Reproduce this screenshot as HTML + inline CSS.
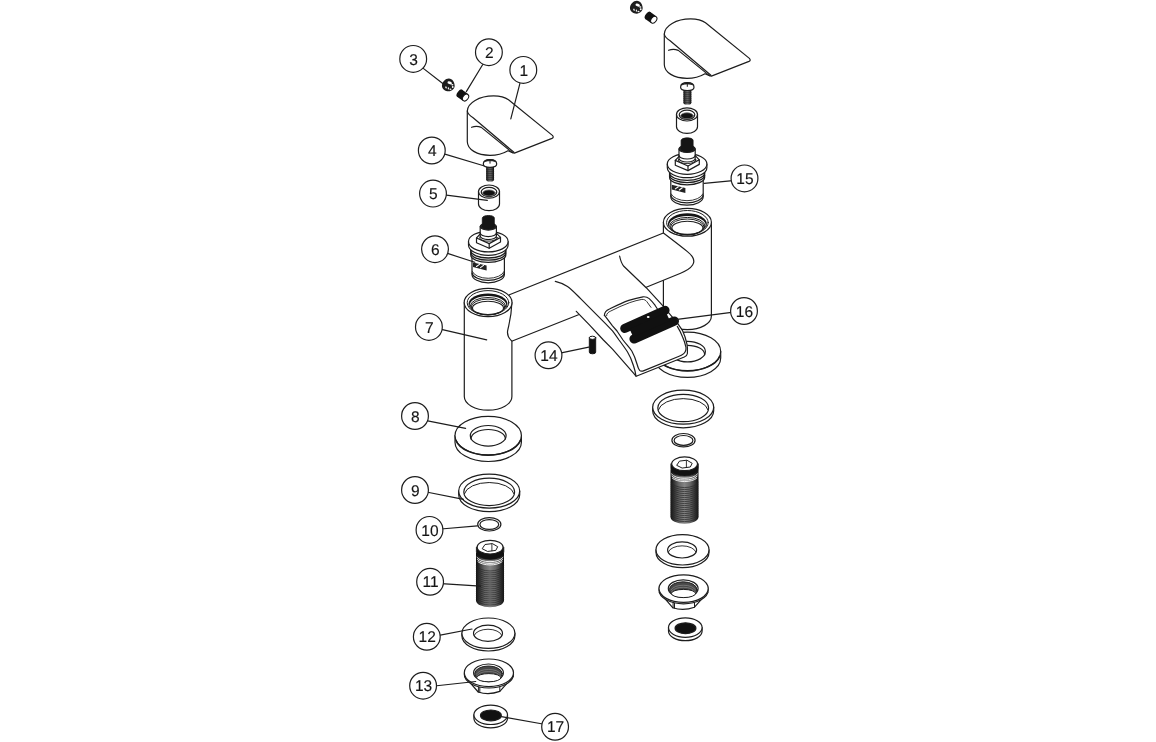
<!DOCTYPE html>
<html lang="en"><head><meta charset="utf-8"><title>Exploded parts diagram</title>
<style>
html,body{margin:0;padding:0;background:#fff;}
svg{display:block;filter:blur(0.3px);}
svg text{font-family:"Liberation Sans",Arial,sans-serif;font-size:15.5px;fill:#151515;stroke:#151515;stroke-width:0.15px;text-rendering:geometricPrecision;}
</style></head><body>
<svg width="1156" height="742" viewBox="0 0 1156 742" fill="#fff" stroke="#1d1d1d" stroke-width="1.2" stroke-linejoin="round" stroke-linecap="round">
<defs><linearGradient id="thr" x1="0" y1="0" x2="1" y2="0"><stop offset="0" stop-color="#0c0c0c"/><stop offset="0.1" stop-color="#2c2c2c"/><stop offset="0.3" stop-color="#666"/><stop offset="0.5" stop-color="#848484"/><stop offset="0.7" stop-color="#666"/><stop offset="0.9" stop-color="#2c2c2c"/><stop offset="1" stop-color="#0c0c0c"/></linearGradient></defs>
<rect x="0" y="0" width="1156" height="742" fill="#fff" stroke="none"/>

<path d="M654.3,351.4 L654.3,358.0 A33.2,19.3 0 0 0 720.7,358.0 L720.7,351.4 Z"/>
<ellipse cx="687.5" cy="351.4" rx="33.2" ry="19.3"/>
<path d="M655.3,356.4 A33.2,19.3 0 0 0 719.7,356.4" fill="none" stroke-width="1.5"/>
<ellipse cx="687.5" cy="351.59999999999997" rx="17.9" ry="10.3"/>
<path d="M670.3,354.79999999999995 A17,9.4 0 0 1 704.7,354.79999999999995" fill="none"/>

<path d="M663.4,222.3 L663.4,316 A24,13.6 0 0 0 711.4,316 L711.4,222.3 Z"/>
<ellipse cx="687.4" cy="222.3" rx="24" ry="13.9"/>

<ellipse cx="687.4" cy="222.60000000000002" rx="20.8" ry="12.1" stroke-width="1"/>
<ellipse cx="687.4" cy="224.0" rx="19.5" ry="10.7" fill="#151515" stroke="none"/>
<ellipse cx="687.4" cy="225.4" rx="18.3" ry="9.4" fill="#fff" stroke="none"/>
<ellipse cx="687.4" cy="226.10000000000002" rx="17.7" ry="8.7" fill="none" stroke-width="1"/>
<ellipse cx="687.4" cy="226.9" rx="16.8" ry="7.9" fill="none" stroke-width="1"/>
<ellipse cx="687.4" cy="227.8" rx="15.5" ry="6.6" fill="none" stroke-width="1.1"/>

<path d="M509.4,294.8 L663.4,233 C670,238 680,245.6 687.4,251.6 C693,256 695.6,260.4 692.6,265 C690,269 686,271 680.6,273.2 L511.7,341.2 Z" stroke="none"/>
<path d="M560,288 L576.3,311.3 L589.4,324.9 L603.4,340 L612.5,349.1 L633.5,373.2 L636.2,376.3 L684.3,357 Q687.2,355.6 687.4,353.5 C687.8,349 687.6,347 686.9,343.9 C685.8,339 684.4,334.6 682.6,330.8 L675.9,321 L662.7,305.6 L646.2,287.7 L623.8,266.3 L619.6,256 Z" stroke="none"/>
<path d="M509.4,294.8 L663.4,233 C670,238 680,245.6 687.4,251.6 C693,256 695.6,260.4 692.6,265 C690,269 686,271 680.6,273.2 L646.2,287.3" fill="none"/>
<path d="M578.5,314.8 L511.7,341.2" fill="none"/>
<path d="M555.3,281.3 C560,282.4 564,284 567.5,286.4 C572,289.6 576,294 580.6,298.6 L593.8,311.8 L605.5,323.6 L612.5,330.8 C615,334 617,337 619,340 C622,344 625,348 627.4,351.8 C630,356 632,361 633.5,365.8 C634.6,369 635.4,372 635.9,375.8" fill="none"/>
<path d="M576.3,311.3 L589.4,324.9 L603.4,340 L612.5,349.1 L633.5,373.2 L636.2,376.3 L684.3,357 Q687.2,355.6 687.4,353.5 C687.8,349 687.6,347 686.9,343.9 C685.8,339 684.4,334.6 682.6,330.8 C681,328 679.6,326.4 677.6,323.4 L662.7,305.6 L646.2,287.7 L623.8,266.3 C621.6,263.6 620.4,260 619.6,256" fill="none"/>
<path d="M604.4,315.2 L612.5,325.8 L617,331 L623,340 C626,344 629,347 631.8,351 C634,355 635.6,359 637,364 C637.8,367 638.4,369 639.6,370.4 Q641,371.8 644,370.6 L679.1,356.2 Q684,354.4 685.2,351.8 C686,350 686.2,349 686,347.4 C685.2,343.6 684,340 682.6,336.9 C681,333 679.4,329.8 677.3,326.4" fill="none"/>
<path d="M604.4,315.6 C604.3,312 606.2,310.4 609.5,309 C615.6,306 622,302.8 628.8,300.4 C633,299 638,297.6 643,296.8 C645.6,296.6 647.6,297.2 649.2,298.6 C651.6,300.8 653.6,303.2 655,305.2 L657.4,309" fill="none"/>
<path d="M606.6,315.6 C606.6,313.4 608.2,312.2 610.8,311 C616.8,308 623,305 629.8,302.6 C634,301.2 638.2,300 641.8,299.4 C644.2,299.2 645.6,300.2 646.8,301.6 L651,307.4" fill="none" stroke-width="0.9"/>
<path d="M624.8,328.4 L665,310.4 M634,339 L674.4,321" stroke="#111" stroke-width="9.2" stroke-linecap="round" fill="none"/>
<path d="M631.4,333 L668,316.6" stroke="#111" stroke-width="9" stroke-linecap="butt" fill="none"/>
<ellipse cx="648.2" cy="317.1" rx="1.4" ry="1" fill="#fff" stroke="none"/>
<path d="M464.3,302.6 L464.3,396.5 A23.8,13.7 0 0 0 511.9,396.5 L511.9,341.2 C508.6,338 507,335 507.6,331 C508.6,325 511.4,318 511.9,302.6 Z"/>
<ellipse cx="488.1" cy="302.5" rx="23.9" ry="14.1"/>

<ellipse cx="488" cy="302.7" rx="20.8" ry="12.1" stroke-width="1"/>
<ellipse cx="488" cy="304.09999999999997" rx="19.5" ry="10.7" fill="#151515" stroke="none"/>
<ellipse cx="488" cy="305.5" rx="18.3" ry="9.4" fill="#fff" stroke="none"/>
<ellipse cx="488" cy="306.2" rx="17.7" ry="8.7" fill="none" stroke-width="1"/>
<ellipse cx="488" cy="307.0" rx="16.8" ry="7.9" fill="none" stroke-width="1"/>
<ellipse cx="488" cy="307.9" rx="15.5" ry="6.6" fill="none" stroke-width="1.1"/>

<path d="M589.3,337.8 L589.3,352.2 A3.2,1.6 0 0 0 595.7,352.2 L595.7,337.8 Z" fill="#111" stroke="#111" stroke-width="0.9"/>
<ellipse cx="592.5" cy="337.8" rx="3.2" ry="1.6" fill="#fff" stroke="#111" stroke-width="1"/>
<path d="M467.3,141.5 L467.3,111 C467.6,103 479,95.9 493.6,95.9 C500.5,95.9 505,97.2 508.5,99.8 L552.4,135.4 Q554.2,137.3 552,138.4 L514.4,153.1 L512.4,152.6 L508,150.7 C503,153.6 497,155.3 490,155.3 C477,155.3 467.3,149.4 467.3,141.5 Z"/>
<path d="M467.3,111 Q468,114.6 473.1,117.8 L513.9,152.3" fill="none"/>
<path d="M471.6,127.3 Q476.5,125.3 481.3,127.4 L512.4,152.6" fill="none"/>
<g transform="translate(197,-77)">
<path d="M467.3,141.5 L467.3,111 C467.6,103 479,95.9 493.6,95.9 C500.5,95.9 505,97.2 508.5,99.8 L552.4,135.4 Q554.2,137.3 552,138.4 L514.4,153.1 L512.4,152.6 L508,150.7 C503,153.6 497,155.3 490,155.3 C477,155.3 467.3,149.4 467.3,141.5 Z"/>
<path d="M467.3,111 Q468,114.6 473.1,117.8 L513.9,152.3" fill="none"/>
<path d="M471.6,127.3 Q476.5,125.3 481.3,127.4 L512.4,152.6" fill="none"/>
</g>
<g transform="translate(436,74) scale(0.0431)" stroke="none">
<path d="M300,103 C225,100 138,185 138,272 C138,352 215,402 292,402 C372,402 436,342 433,268 C430,182 378,106 300,103 Z" fill="#1d1d1d"/>
<ellipse cx="318" cy="204" rx="54" ry="32" transform="rotate(22 318 204)" fill="#fff"/>
<ellipse cx="378" cy="248" rx="26" ry="18" fill="#fff"/>
<ellipse cx="388" cy="300" rx="21" ry="23" fill="#fff"/>
<ellipse cx="336" cy="354" rx="24" ry="18" fill="#f4f4f4"/>
<ellipse cx="288" cy="334" rx="16" ry="25" fill="#eee"/>
<ellipse cx="232" cy="312" rx="20" ry="27" transform="rotate(-25 232 312)" fill="#ddd"/>
</g>
<g transform="translate(188,-77.7)">
<g transform="translate(436,74) scale(0.0431)" stroke="none">
<path d="M300,103 C225,100 138,185 138,272 C138,352 215,402 292,402 C372,402 436,342 433,268 C430,182 378,106 300,103 Z" fill="#1d1d1d"/>
<ellipse cx="318" cy="204" rx="54" ry="32" transform="rotate(22 318 204)" fill="#fff"/>
<ellipse cx="378" cy="248" rx="26" ry="18" fill="#fff"/>
<ellipse cx="388" cy="300" rx="21" ry="23" fill="#fff"/>
<ellipse cx="336" cy="354" rx="24" ry="18" fill="#f4f4f4"/>
<ellipse cx="288" cy="334" rx="16" ry="25" fill="#eee"/>
<ellipse cx="232" cy="312" rx="20" ry="27" transform="rotate(-25 232 312)" fill="#ddd"/>
</g>
</g>
<g transform="translate(459.6,93.2) rotate(36)">
<rect x="0" y="-4.3" width="7.4" height="8.6" fill="#111" stroke="none"/>
<ellipse cx="0" cy="0" rx="2.2" ry="4.3" fill="#111" stroke="none"/>
<ellipse cx="7.4" cy="0" rx="2.6" ry="3.8" fill="#fff" stroke="#111" stroke-width="1"/>
</g>
<g transform="translate(188.2,-77.8)">
<g transform="translate(459.6,93.2) rotate(36)">
<rect x="0" y="-4.3" width="7.4" height="8.6" fill="#111" stroke="none"/>
<ellipse cx="0" cy="0" rx="2.2" ry="4.3" fill="#111" stroke="none"/>
<ellipse cx="7.4" cy="0" rx="2.6" ry="3.8" fill="#fff" stroke="#111" stroke-width="1"/>
</g>
</g>
<rect x="486.2" y="165" width="7.8" height="16.4" rx="1.8" fill="url(#thr)" stroke="none"/>
<rect x="486.2" y="165" width="7.8" height="16.4" rx="1.8" fill="#000" fill-opacity="0.22" stroke="none"/>
<path d="M486.4,169.4 h7.4 M486.4,171.4 h7.4 M486.4,173.4 h7.4 M486.4,175.4 h7.4 M486.4,177.4 h7.4 M486.4,179.4 h7.4" stroke="#222" stroke-width="0.7" fill="none" stroke-opacity="0.8"/>
<path d="M483.3,164 C483.3,160.6 486.3,159.5 490,159.5 C493.7,159.5 496.7,160.6 496.7,164 C496.7,166 493.7,167.3 490,167.3 C486.3,167.3 483.3,166 483.3,164 Z"/>
<path d="M484.6,161.6 C486,159.8 488,159.5 490,159.5 C492,159.5 494,159.8 495.4,161.6 C493.6,160.9 491.8,160.7 490,160.7 C488.2,160.7 486.4,160.9 484.6,161.6 Z" fill="#222" stroke-width="0.8"/>
<path d="M490,160 L490,163.2" fill="none" stroke-width="1"/>
<g transform="translate(197.3,-76.8)">
<rect x="486.2" y="165" width="7.8" height="16.4" rx="1.8" fill="url(#thr)" stroke="none"/>
<rect x="486.2" y="165" width="7.8" height="16.4" rx="1.8" fill="#000" fill-opacity="0.22" stroke="none"/>
<path d="M486.4,169.4 h7.4 M486.4,171.4 h7.4 M486.4,173.4 h7.4 M486.4,175.4 h7.4 M486.4,177.4 h7.4 M486.4,179.4 h7.4" stroke="#222" stroke-width="0.7" fill="none" stroke-opacity="0.8"/>
<path d="M483.3,164 C483.3,160.6 486.3,159.5 490,159.5 C493.7,159.5 496.7,160.6 496.7,164 C496.7,166 493.7,167.3 490,167.3 C486.3,167.3 483.3,166 483.3,164 Z"/>
<path d="M484.6,161.6 C486,159.8 488,159.5 490,159.5 C492,159.5 494,159.8 495.4,161.6 C493.6,160.9 491.8,160.7 490,160.7 C488.2,160.7 486.4,160.9 484.6,161.6 Z" fill="#222" stroke-width="0.8"/>
<path d="M490,160 L490,163.2" fill="none" stroke-width="1"/>
</g>
<path d="M478.5,191.6 L478.5,204 A10.5,6.6 0 0 0 499.5,204 L499.5,191.6 Z"/>
<ellipse cx="489" cy="191.6" rx="10.5" ry="6.6"/>
<ellipse cx="489" cy="192" rx="7.8" ry="4.7" fill="#fff"/>
<ellipse cx="489" cy="193" rx="6.3" ry="3" fill="#111" stroke="#666" stroke-width="0.8"/>
<g transform="translate(198,-77.2)">
<path d="M478.5,191.6 L478.5,204 A10.5,6.6 0 0 0 499.5,204 L499.5,191.6 Z"/>
<ellipse cx="489" cy="191.6" rx="10.5" ry="6.6"/>
<ellipse cx="489" cy="192" rx="7.8" ry="4.7" fill="#fff"/>
<ellipse cx="489" cy="193" rx="6.3" ry="3" fill="#111" stroke="#666" stroke-width="0.8"/>
</g>
<!-- body -->
<path d="M472,254 L472,274.4 A16.2,8.4 0 0 0 504.4,274.4 L504.4,254 Z"/>
<path d="M472.1,273 A16.2,8.4 0 0 0 504.3,273" fill="none"/>
<path d="M472.3,271.5 A16.2,8.4 0 0 0 504.1,271.5" fill="none" stroke-width="0.9"/>
<!-- thread -->
<path d="M470.8,248 L470.8,255 A17.5,7.4 0 0 0 505.8,255 L505.8,248 Z" stroke-width="1.3"/>
<path d="M470.8,250.6 A17.5,7.4 0 0 0 505.8,250.6 M470.8,252.8 A17.5,7.4 0 0 0 505.8,252.8" fill="none" stroke-width="1.3"/>
<!-- flange -->
<path d="M468.5,241.6 L468.5,245 A19.8,10.3 0 0 0 508.1,245 L508.1,241.6 Z"/>
<ellipse cx="488.3" cy="241.6" rx="19.8" ry="10.3"/>
<!-- hex nut -->
<path d="M476.5,238 L476.5,242.8 L489.2,248.2 L500.5,242 L500.5,237.4 Z"/>
<path d="M476.5,238 L481,233.2 L496,232.8 L500.5,237.4 L489.2,243.6 Z"/>
<path d="M489.2,243.6 L489.2,248.2" fill="none"/>
<ellipse cx="488.3" cy="237.6" rx="8.8" ry="3.6" fill="none" stroke-width="0.9"/>
<!-- collar -->
<path d="M480.2,226.5 L480.2,236 A8.1,3.6 0 0 0 496.4,236 L496.4,226.5 Z"/>
<path d="M480.2,233 A8.1,3.6 0 0 0 496.4,233" fill="none"/>
<ellipse cx="488.3" cy="226.5" rx="8.1" ry="3.6" fill="#222"/>
<!-- spline -->
<path d="M482.3,218 C482.3,214.6 494.3,214.6 494.3,218 L494.3,226.5 A6,2.6 0 0 1 482.3,226.5 Z" fill="#151515" stroke="#151515" stroke-width="0.8"/>
<!-- label window -->
<path d="M473,262.4 L486.6,265.6 L486.6,270.6 L473,267 Z" fill="#222" stroke="none"/>
<path d="M476.5,266.5 L479.5,264.4 M480.5,267.6 L483.5,265.4" stroke="#fff" stroke-width="1.1" fill="none"/>
<g transform="translate(198.8,-77.6)">
<!-- body -->
<path d="M472,254 L472,274.4 A16.2,8.4 0 0 0 504.4,274.4 L504.4,254 Z"/>
<path d="M472.1,273 A16.2,8.4 0 0 0 504.3,273" fill="none"/>
<path d="M472.3,271.5 A16.2,8.4 0 0 0 504.1,271.5" fill="none" stroke-width="0.9"/>
<!-- thread -->
<path d="M470.8,248 L470.8,255 A17.5,7.4 0 0 0 505.8,255 L505.8,248 Z" stroke-width="1.3"/>
<path d="M470.8,250.6 A17.5,7.4 0 0 0 505.8,250.6 M470.8,252.8 A17.5,7.4 0 0 0 505.8,252.8" fill="none" stroke-width="1.3"/>
<!-- flange -->
<path d="M468.5,241.6 L468.5,245 A19.8,10.3 0 0 0 508.1,245 L508.1,241.6 Z"/>
<ellipse cx="488.3" cy="241.6" rx="19.8" ry="10.3"/>
<!-- hex nut -->
<path d="M476.5,238 L476.5,242.8 L489.2,248.2 L500.5,242 L500.5,237.4 Z"/>
<path d="M476.5,238 L481,233.2 L496,232.8 L500.5,237.4 L489.2,243.6 Z"/>
<path d="M489.2,243.6 L489.2,248.2" fill="none"/>
<ellipse cx="488.3" cy="237.6" rx="8.8" ry="3.6" fill="none" stroke-width="0.9"/>
<!-- collar -->
<path d="M480.2,226.5 L480.2,236 A8.1,3.6 0 0 0 496.4,236 L496.4,226.5 Z"/>
<path d="M480.2,233 A8.1,3.6 0 0 0 496.4,233" fill="none"/>
<ellipse cx="488.3" cy="226.5" rx="8.1" ry="3.6" fill="#222"/>
<!-- spline -->
<path d="M482.3,218 C482.3,214.6 494.3,214.6 494.3,218 L494.3,226.5 A6,2.6 0 0 1 482.3,226.5 Z" fill="#151515" stroke="#151515" stroke-width="0.8"/>
<!-- label window -->
<path d="M473,262.4 L486.6,265.6 L486.6,270.6 L473,267 Z" fill="#222" stroke="none"/>
<path d="M476.5,266.5 L479.5,264.4 M480.5,267.6 L483.5,265.4" stroke="#fff" stroke-width="1.1" fill="none"/>
</g>
<path d="M455.0,435.6 L455.0,442.20000000000005 A33.2,19.3 0 0 0 521.4,442.20000000000005 L521.4,435.6 Z"/>
<ellipse cx="488.2" cy="435.6" rx="33.2" ry="19.3"/>
<path d="M456.0,440.6 A33.2,19.3 0 0 0 520.4,440.6" fill="none" stroke-width="1.5"/>
<ellipse cx="488.2" cy="435.8" rx="17.9" ry="10.3"/>
<path d="M471.0,439.0 A17,9.4 0 0 1 505.4,439.0" fill="none"/>

<path d="M458.7,491.1 L458.7,494.70000000000005 A30.5,17 0 0 0 519.7,494.70000000000005 L519.7,491.1 Z"/>
<ellipse cx="489.2" cy="491.1" rx="30.5" ry="17"/>
<ellipse cx="489.2" cy="491.90000000000003" rx="25.4" ry="13.7"/>
<path d="M464.4,493.70000000000005 A25,12.8 0 0 1 514.0,493.70000000000005" fill="none" stroke-width="1"/>
<g transform="translate(194,-83.9)">
<path d="M458.7,491.1 L458.7,494.70000000000005 A30.5,17 0 0 0 519.7,494.70000000000005 L519.7,491.1 Z"/>
<ellipse cx="489.2" cy="491.1" rx="30.5" ry="17"/>
<ellipse cx="489.2" cy="491.90000000000003" rx="25.4" ry="13.7"/>
<path d="M464.4,493.70000000000005 A25,12.8 0 0 1 514.0,493.70000000000005" fill="none" stroke-width="1"/>
</g>
<ellipse cx="489.3" cy="524.3" rx="11.6" ry="6.7"/>
<ellipse cx="489.3" cy="524.5" rx="9.4" ry="4.9"/>
<g transform="translate(194.2,-84.1)">
<ellipse cx="489.3" cy="524.3" rx="11.6" ry="6.7"/>
<ellipse cx="489.3" cy="524.5" rx="9.4" ry="4.9"/>
</g><path d="M476,553 L476,600.4 A14,6.8 0 0 0 504,600.4 L504,553 Z" fill="url(#thr)" stroke="none"/>
<path d="M476.3,565.6 A14,6.8 0 0 0 503.7,565.6 M476.3,567.6 A14,6.8 0 0 0 503.7,567.6 M476.3,569.6 A14,6.8 0 0 0 503.7,569.6 M476.3,571.6 A14,6.8 0 0 0 503.7,571.6 M476.3,573.6 A14,6.8 0 0 0 503.7,573.6 M476.3,575.6 A14,6.8 0 0 0 503.7,575.6 M476.3,577.6 A14,6.8 0 0 0 503.7,577.6 M476.3,579.6 A14,6.8 0 0 0 503.7,579.6 M476.3,581.6 A14,6.8 0 0 0 503.7,581.6 M476.3,583.6 A14,6.8 0 0 0 503.7,583.6 M476.3,585.6 A14,6.8 0 0 0 503.7,585.6 M476.3,587.6 A14,6.8 0 0 0 503.7,587.6 M476.3,589.6 A14,6.8 0 0 0 503.7,589.6 M476.3,591.6 A14,6.8 0 0 0 503.7,591.6 M476.3,593.6 A14,6.8 0 0 0 503.7,593.6 M476.3,595.6 A14,6.8 0 0 0 503.7,595.6 M476.3,597.6 A14,6.8 0 0 0 503.7,597.6 M476.3,599.6 A14,6.8 0 0 0 503.7,599.6" fill="none" stroke="#262626" stroke-width="0.8" stroke-opacity="0.85"/>
<path d="M477,557.4 A14,6.8 0 0 0 503,557.4 M477.4,559.6 A14,6.8 0 0 0 502.6,559.6 M478,561.8 A14,6.8 0 0 0 502,561.8" fill="none" stroke="#fff" stroke-width="0.9"/>
<path d="M476.4,547.4 L476.4,552 A13.7,7.4 0 0 0 503.8,552 L503.8,547.4 Z" fill="#111" stroke="#111" stroke-width="0.8"/>
<ellipse cx="490.1" cy="547.2" rx="12.9" ry="6.9"/>
<path d="M482.4,548.4 L485,544.5 L492.4,543.6 L497.7,546.7 L495.8,550.4 L488,551.4 Z" stroke-width="1"/>
<path d="M491.9,544 L491.9,550.8" fill="none" stroke-width="0.9"/><g transform="translate(194.5,-83.4)"><path d="M476,553 L476,600.4 A14,6.8 0 0 0 504,600.4 L504,553 Z" fill="url(#thr)" stroke="none"/>
<path d="M476.3,565.6 A14,6.8 0 0 0 503.7,565.6 M476.3,567.6 A14,6.8 0 0 0 503.7,567.6 M476.3,569.6 A14,6.8 0 0 0 503.7,569.6 M476.3,571.6 A14,6.8 0 0 0 503.7,571.6 M476.3,573.6 A14,6.8 0 0 0 503.7,573.6 M476.3,575.6 A14,6.8 0 0 0 503.7,575.6 M476.3,577.6 A14,6.8 0 0 0 503.7,577.6 M476.3,579.6 A14,6.8 0 0 0 503.7,579.6 M476.3,581.6 A14,6.8 0 0 0 503.7,581.6 M476.3,583.6 A14,6.8 0 0 0 503.7,583.6 M476.3,585.6 A14,6.8 0 0 0 503.7,585.6 M476.3,587.6 A14,6.8 0 0 0 503.7,587.6 M476.3,589.6 A14,6.8 0 0 0 503.7,589.6 M476.3,591.6 A14,6.8 0 0 0 503.7,591.6 M476.3,593.6 A14,6.8 0 0 0 503.7,593.6 M476.3,595.6 A14,6.8 0 0 0 503.7,595.6 M476.3,597.6 A14,6.8 0 0 0 503.7,597.6 M476.3,599.6 A14,6.8 0 0 0 503.7,599.6" fill="none" stroke="#262626" stroke-width="0.8" stroke-opacity="0.85"/>
<path d="M477,557.4 A14,6.8 0 0 0 503,557.4 M477.4,559.6 A14,6.8 0 0 0 502.6,559.6 M478,561.8 A14,6.8 0 0 0 502,561.8" fill="none" stroke="#fff" stroke-width="0.9"/>
<path d="M476.4,547.4 L476.4,552 A13.7,7.4 0 0 0 503.8,552 L503.8,547.4 Z" fill="#111" stroke="#111" stroke-width="0.8"/>
<ellipse cx="490.1" cy="547.2" rx="12.9" ry="6.9"/>
<path d="M482.4,548.4 L485,544.5 L492.4,543.6 L497.7,546.7 L495.8,550.4 L488,551.4 Z" stroke-width="1"/>
<path d="M491.9,544 L491.9,550.8" fill="none" stroke-width="0.9"/></g>
<path d="M461.9,633.2 L461.9,635.8000000000001 A26.5,15.2 0 0 0 514.9,635.8000000000001 L514.9,633.2 Z"/>
<ellipse cx="488.4" cy="633.2" rx="26.5" ry="15.2"/>
<ellipse cx="488.0" cy="633.3000000000001" rx="14.5" ry="8.1"/>
<path d="M474.2,635.4000000000001 A14,7.4 0 0 1 501.79999999999995,635.4000000000001" fill="none" stroke-width="0.9"/>
<g transform="translate(194.1,-83.4)">
<path d="M461.9,633.2 L461.9,635.8000000000001 A26.5,15.2 0 0 0 514.9,635.8000000000001 L514.9,633.2 Z"/>
<ellipse cx="488.4" cy="633.2" rx="26.5" ry="15.2"/>
<ellipse cx="488.0" cy="633.3000000000001" rx="14.5" ry="8.1"/>
<path d="M474.2,635.4000000000001 A14,7.4 0 0 1 501.79999999999995,635.4000000000001" fill="none" stroke-width="0.9"/>
</g>
<path d="M464.6,676.4 L478.2,692 Q488.7,695.4 499.8,691.4 L513.2,676.4 Z"/>
<path d="M478.4,692.2 L478.4,686.8 M479.8,692.4 L479.8,687.2 M499.8,691.4 L499.8,686.6" fill="none" stroke-width="1"/>
<ellipse cx="488.9" cy="674.1999999999999" rx="24.6" ry="13.8"/>
<ellipse cx="488.9" cy="672.8" rx="24.6" ry="13.8"/>
<ellipse cx="488.5" cy="672.8" rx="14.9" ry="8.8"/>
<ellipse cx="488.5" cy="673.6999999999999" rx="13.8" ry="7.7" fill="#484848" stroke="#222" stroke-width="1"/>
<path d="M476.29999999999995,674.1999999999999 A13,7 0 0 1 500.9,674.1999999999999 M476.9,675.8 A12.4,6.4 0 0 1 500.29999999999995,675.8" fill="none" stroke="#909090" stroke-width="0.6"/>
<ellipse cx="488.9" cy="677.6999999999999" rx="12.2" ry="4.1" fill="#fff" stroke-width="1"/>
<g transform="translate(194.7,-84.2)">
<path d="M464.6,676.4 L478.2,692 Q488.7,695.4 499.8,691.4 L513.2,676.4 Z"/>
<path d="M478.4,692.2 L478.4,686.8 M479.8,692.4 L479.8,687.2 M499.8,691.4 L499.8,686.6" fill="none" stroke-width="1"/>
<ellipse cx="488.9" cy="674.1999999999999" rx="24.6" ry="13.8"/>
<ellipse cx="488.9" cy="672.8" rx="24.6" ry="13.8"/>
<ellipse cx="488.5" cy="672.8" rx="14.9" ry="8.8"/>
<ellipse cx="488.5" cy="673.6999999999999" rx="13.8" ry="7.7" fill="#484848" stroke="#222" stroke-width="1"/>
<path d="M476.29999999999995,674.1999999999999 A13,7 0 0 1 500.9,674.1999999999999 M476.9,675.8 A12.4,6.4 0 0 1 500.29999999999995,675.8" fill="none" stroke="#909090" stroke-width="0.6"/>
<ellipse cx="488.9" cy="677.6999999999999" rx="12.2" ry="4.1" fill="#fff" stroke-width="1"/>
</g>
<path d="M473.9,714.8 L473.9,718.1999999999999 A16.8,9.7 0 0 0 507.5,718.1999999999999 L507.5,714.8 Z"/>
<ellipse cx="490.7" cy="714.8" rx="16.8" ry="9.7"/>
<ellipse cx="490.9" cy="715.4" rx="10.4" ry="5.4" fill="#111"/>
<g transform="translate(194.6,-87.2)">
<path d="M473.9,714.8 L473.9,718.1999999999999 A16.8,9.7 0 0 0 507.5,718.1999999999999 L507.5,714.8 Z"/>
<ellipse cx="490.7" cy="714.8" rx="16.8" ry="9.7"/>
<ellipse cx="490.9" cy="715.4" rx="10.4" ry="5.4" fill="#111"/>
</g><path d="M422.0,67.4 L443.4,84" fill="none"/>
<path d="M483.2,63.7 L466.3,91.6" fill="none"/>
<path d="M520.5,81.1 L510.8,118.9" fill="none"/>
<path d="M442.4,153.4 L483.7,165.8" fill="none"/>
<path d="M444.4,194.9 L487.3,200.4" fill="none"/>
<path d="M446.0,252.9 L474.8,262.3" fill="none"/>
<path d="M440.3,329.1 L486.7,339.8" fill="none"/>
<path d="M426.4,420.6 L465.6,428.3" fill="none"/>
<path d="M426.4,492.0 L463.5,499.4" fill="none"/>
<path d="M440.9,529.0 L477.4,525.8" fill="none"/>
<path d="M441.2,583.6 L480.5,586.2" fill="none"/>
<path d="M437.7,635.6 L472,629" fill="none"/>
<path d="M434.4,686.0 L475.7,681.5" fill="none"/>
<path d="M558.9,353.3 L588.8,347.1" fill="none"/>
<path d="M732.9,180.7 L704.2,183.3" fill="none"/>
<path d="M733.5,312.2 L677.2,319.4" fill="none"/>
<path d="M545.6,724.5 L501.5,716.7" fill="none"/><circle cx="413.2" cy="58.9" r="13.4" fill="#fff"/><text x="413.6" y="64.5" text-anchor="middle">3</text>
<circle cx="488.9" cy="52.2" r="13.4" fill="#fff"/><text x="489.3" y="57.8" text-anchor="middle">2</text>
<circle cx="523.3" cy="69.9" r="13.4" fill="#fff"/><text x="523.7" y="75.5" text-anchor="middle">1</text>
<circle cx="431.8" cy="150.5" r="13.4" fill="#fff"/><text x="432.2" y="156.1" text-anchor="middle">4</text>
<circle cx="433" cy="193.6" r="13.4" fill="#fff"/><text x="433.4" y="199.2" text-anchor="middle">5</text>
<circle cx="435" cy="249.2" r="13.4" fill="#fff"/><text x="435.4" y="254.8" text-anchor="middle">6</text>
<circle cx="428.9" cy="326.9" r="13.4" fill="#fff"/><text x="429.3" y="332.5" text-anchor="middle">7</text>
<circle cx="415" cy="416" r="13.4" fill="#fff"/><text x="415.4" y="421.6" text-anchor="middle">8</text>
<circle cx="415" cy="490" r="13.4" fill="#fff"/><text x="415.4" y="495.6" text-anchor="middle">9</text>
<circle cx="429.5" cy="529.9" r="13.4" fill="#fff"/><text x="429.9" y="535.5" text-anchor="middle">10</text>
<circle cx="430.1" cy="581.8" r="13.4" fill="#fff"/><text x="430.5" y="587.4" text-anchor="middle">11</text>
<circle cx="426.8" cy="636.8" r="13.4" fill="#fff"/><text x="427.2" y="642.4" text-anchor="middle">12</text>
<circle cx="423.1" cy="685.7" r="13.4" fill="#fff"/><text x="423.5" y="691.3" text-anchor="middle">13</text>
<circle cx="548.5" cy="355.3" r="13.4" fill="#fff"/><text x="548.9" y="360.9" text-anchor="middle">14</text>
<circle cx="744.5" cy="178.4" r="13.4" fill="#fff"/><text x="744.9" y="184.0" text-anchor="middle">15</text>
<circle cx="744" cy="311" r="13.4" fill="#fff"/><text x="744.4" y="316.6" text-anchor="middle">16</text>
<circle cx="555.1" cy="726.8" r="13.4" fill="#fff"/><text x="555.5" y="732.4" text-anchor="middle">17</text>
</svg>
</body></html>
